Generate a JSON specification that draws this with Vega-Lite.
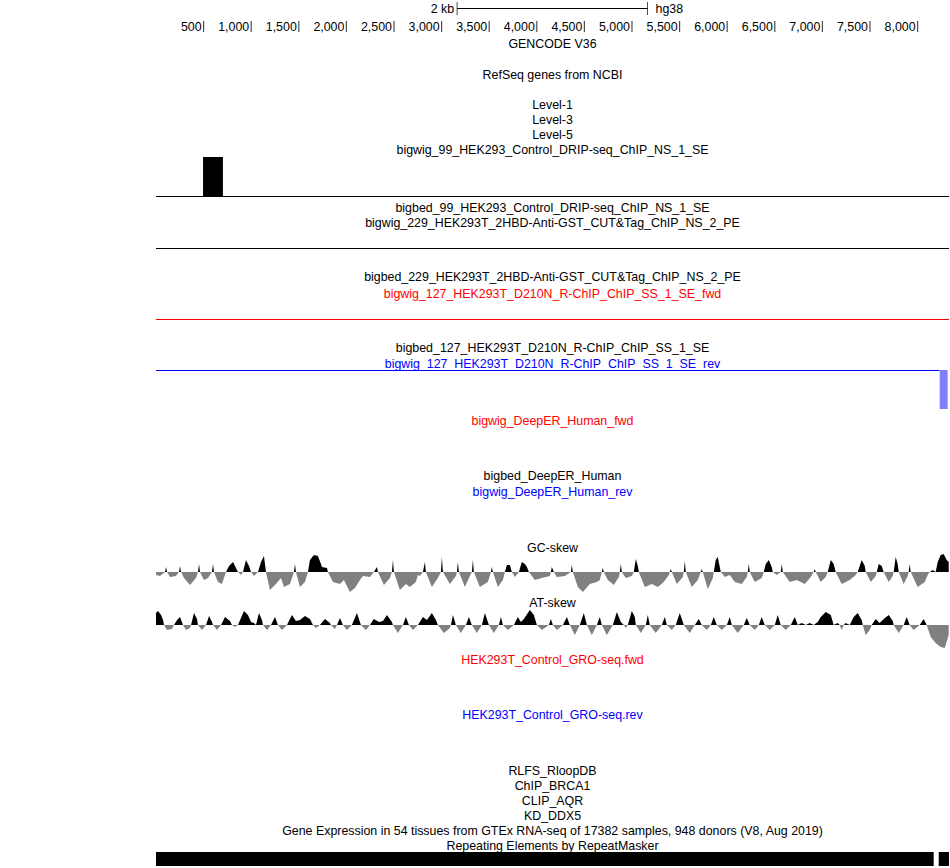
{
  "$schema": "https://vega.github.io/schema/vega-lite/v6.json",
  "background": "white",
  "padding": {"left": 156, "top": 0, "right": 1, "bottom": 2},
  "spacing": 0,
  "bounds": "flush",
  "resolve": {"scale": {"x": "independent", "y": "independent", "color": "independent"}},
  "config": {"view": {"stroke": null}, "text": {"font": "Liberation Sans", "fontSize": 12.4}, "concat": {"spacing": 0}},
  "vconcat": [
    {
      "width": 793, "height": 17,
      "data": {"values": [{"start": 3163, "end": 5163, "left": "2 kb", "right": "hg38"}]},
      "layer": [
        {"mark": {"type": "rule", "color": "black", "strokeWidth": 1},
         "encoding": {"x": {"field": "start", "type": "quantitative", "scale": {"domain": [0, 8330], "nice": false, "zero": false}, "axis": null}, "x2": {"field": "end"}}},
        {"mark": {"type": "tick", "color": "black", "size": 13, "thickness": 1},
         "encoding": {"x": {"field": "start", "type": "quantitative", "scale": {"domain": [0, 8330], "nice": false, "zero": false}, "axis": null}}},
        {"mark": {"type": "tick", "color": "black", "size": 13, "thickness": 1},
         "encoding": {"x": {"field": "end", "type": "quantitative", "scale": {"domain": [0, 8330], "nice": false, "zero": false}, "axis": null}}},
        {"mark": {"type": "text", "align": "right", "baseline": "middle", "dx": -3},
         "encoding": {"x": {"field": "start", "type": "quantitative", "scale": {"domain": [0, 8330], "nice": false, "zero": false}, "axis": null}, "text": {"field": "left"}}},
        {"mark": {"type": "text", "align": "left", "baseline": "middle", "dx": 8},
         "encoding": {"x": {"field": "end", "type": "quantitative", "scale": {"domain": [0, 8330], "nice": false, "zero": false}, "axis": null}, "text": {"field": "right"}}}
      ]
    },
    {
      "width": 793, "height": 19,
      "data": {"values": [
        {"pos": 500, "label": "500"}, {"pos": 1000, "label": "1,000"}, {"pos": 1500, "label": "1,500"}, {"pos": 2000, "label": "2,000"},
        {"pos": 2500, "label": "2,500"}, {"pos": 3000, "label": "3,000"}, {"pos": 3500, "label": "3,500"}, {"pos": 4000, "label": "4,000"},
        {"pos": 4500, "label": "4,500"}, {"pos": 5000, "label": "5,000"}, {"pos": 5500, "label": "5,500"}, {"pos": 6000, "label": "6,000"},
        {"pos": 6500, "label": "6,500"}, {"pos": 7000, "label": "7,000"}, {"pos": 7500, "label": "7,500"}, {"pos": 8000, "label": "8,000"}
      ]},
      "layer": [
        {"mark": {"type": "tick", "color": "black", "size": 11, "thickness": 1.2},
         "encoding": {"x": {"field": "pos", "type": "quantitative", "scale": {"domain": [0, 8330], "nice": false, "zero": false}, "axis": null}}},
        {"mark": {"type": "text", "align": "right", "baseline": "middle", "dx": -2},
         "encoding": {"x": {"field": "pos", "type": "quantitative", "scale": {"domain": [0, 8330], "nice": false, "zero": false}, "axis": null}, "text": {"field": "label"}}}
      ]
    },
    {
      "width": 793, "height": 15,
      "data": {"values": [{"label": "GENCODE V36", "strand": "none"}]},
      "mark": {"type": "text", "baseline": "middle", "align": "center"},
      "encoding": {
        "y": {"field": "label", "type": "ordinal", "sort": null, "axis": null, "scale": {"padding": 0.5, "align": 0.5}},
        "text": {"field": "label"},
        "color": {"field": "strand", "type": "nominal", "scale": {"domain": ["none", "fwd", "rev"], "range": ["#000000", "#ff0000", "#0000ff"]}, "legend": null}
      }
    },
    {
      "width": 793, "height": 46,
      "data": {"values": [{"label": "RefSeq genes from NCBI", "strand": "none"}]},
      "mark": {"type": "text", "baseline": "middle", "align": "center"},
      "encoding": {
        "y": {"field": "label", "type": "ordinal", "sort": null, "axis": null, "scale": {"padding": 0.5, "align": 0.52}},
        "text": {"field": "label"},
        "color": {"field": "strand", "type": "nominal", "scale": {"domain": ["none", "fwd", "rev"], "range": ["#000000", "#ff0000", "#0000ff"]}, "legend": null}
      }
    },
    {
      "width": 793, "height": 60,
      "data": {"values": [
        {"label": "Level-1", "strand": "none"}, {"label": "Level-3", "strand": "none"}, {"label": "Level-5", "strand": "none"},
        {"label": "bigwig_99_HEK293_Control_DRIP-seq_ChIP_NS_1_SE", "strand": "none"}
      ]},
      "mark": {"type": "text", "baseline": "middle", "align": "center"},
      "encoding": {
        "y": {"field": "label", "type": "ordinal", "sort": null, "axis": null, "scale": {"padding": 0.5, "align": 0.5}},
        "text": {"field": "label"},
        "color": {"field": "strand", "type": "nominal", "scale": {"domain": ["none", "fwd", "rev"], "range": ["#000000", "#ff0000", "#0000ff"]}, "legend": null}
      }
    },
    {
      "width": 793, "height": 40,
      "data": {"values": [{"start": 0, "end": 494, "signal": 1}, {"start": 494, "end": 703, "signal": 40}, {"start": 703, "end": 8330, "signal": 1}]},
      "mark": {"type": "rect", "color": "#000000"},
      "encoding": {
        "x": {"field": "start", "type": "quantitative", "scale": {"domain": [0, 8330], "nice": false, "zero": false}, "axis": null},
        "x2": {"field": "end"},
        "y": {"field": "signal", "type": "quantitative", "scale": {"domain": [0, 40], "nice": false}, "axis": null},
        "y2": {"datum": 0}
      }
    },
    {
      "width": 793, "height": 32,
      "data": {"values": [
        {"label": "bigbed_99_HEK293_Control_DRIP-seq_ChIP_NS_1_SE", "strand": "none"},
        {"label": "bigwig_229_HEK293T_2HBD-Anti-GST_CUT&Tag_ChIP_NS_2_PE", "strand": "none"}
      ]},
      "mark": {"type": "text", "baseline": "middle", "align": "center"},
      "encoding": {
        "y": {"field": "label", "type": "ordinal", "sort": null, "axis": null, "scale": {"padding": 0.5667, "align": 0.647}},
        "text": {"field": "label"},
        "color": {"field": "strand", "type": "nominal", "scale": {"domain": ["none", "fwd", "rev"], "range": ["#000000", "#ff0000", "#0000ff"]}, "legend": null}
      }
    },
    {
      "width": 793, "height": 20,
      "data": {"values": [{"start": 0, "end": 8330, "signal": 1}]},
      "mark": {"type": "rect", "color": "#000000"},
      "encoding": {
        "x": {"field": "start", "type": "quantitative", "scale": {"domain": [0, 8330], "nice": false, "zero": false}, "axis": null},
        "x2": {"field": "end"},
        "y": {"field": "signal", "type": "quantitative", "scale": {"domain": [0, 20], "nice": false}, "axis": null},
        "y2": {"datum": 0}
      }
    },
    {
      "width": 793, "height": 51,
      "data": {"values": [
        {"label": "bigbed_229_HEK293T_2HBD-Anti-GST_CUT&Tag_ChIP_NS_2_PE", "strand": "none"},
        {"label": "bigwig_127_HEK293T_D210N_R-ChIP_ChIP_SS_1_SE_fwd", "strand": "fwd"}
      ]},
      "mark": {"type": "text", "baseline": "middle", "align": "center"},
      "encoding": {
        "y": {"field": "label", "type": "ordinal", "sort": null, "axis": null, "scale": {"padding": 1, "align": 0.819}},
        "text": {"field": "label"},
        "color": {"field": "strand", "type": "nominal", "scale": {"domain": ["none", "fwd", "rev"], "range": ["#000000", "#ff0000", "#0000ff"]}, "legend": null}
      }
    },
    {
      "width": 793, "height": 20,
      "data": {"values": [{"start": 0, "end": 8330, "signal": 1}]},
      "mark": {"type": "rect", "color": "#ff0000"},
      "encoding": {
        "x": {"field": "start", "type": "quantitative", "scale": {"domain": [0, 8330], "nice": false, "zero": false}, "axis": null},
        "x2": {"field": "end"},
        "y": {"field": "signal", "type": "quantitative", "scale": {"domain": [0, 20], "nice": false}, "axis": null},
        "y2": {"datum": 0}
      }
    },
    {
      "width": 793, "height": 50,
      "data": {"values": [
        {"label": "bigbed_127_HEK293T_D210N_R-ChIP_ChIP_SS_1_SE", "strand": "none"},
        {"label": "bigwig_127_HEK293T_D210N_R-ChIP_ChIP_SS_1_SE_rev", "strand": "rev"}
      ]},
      "mark": {"type": "text", "baseline": "middle", "align": "center"},
      "encoding": {
        "y": {"field": "label", "type": "ordinal", "sort": null, "axis": null, "scale": {"padding": 1, "align": 0.829}},
        "text": {"field": "label"},
        "color": {"field": "strand", "type": "nominal", "scale": {"domain": ["none", "fwd", "rev"], "range": ["#000000", "#ff0000", "#0000ff"]}, "legend": null}
      }
    },
    {
      "width": 793, "height": 40,
      "data": {"values": [{"start": 0, "end": 8232, "signal": 1}, {"start": 8232, "end": 8316, "signal": 39}]},
      "mark": {"type": "rect"},
      "encoding": {
        "x": {"field": "start", "type": "quantitative", "scale": {"domain": [0, 8330], "nice": false, "zero": false}, "axis": null},
        "x2": {"field": "end"},
        "y": {"field": "signal", "type": "quantitative", "scale": {"domain": [0, 40], "nice": false, "reverse": true}, "axis": null},
        "y2": {"datum": 0},
        "color": {"condition": {"test": "datum.signal > 1", "value": "#8080ff"}, "value": "#0000ff"}
      }
    },
    {
      "width": 793, "height": 58,
      "data": {"values": [{"label": "bigwig_DeepER_Human_fwd", "strand": "fwd"}]},
      "mark": {"type": "text", "baseline": "middle", "align": "center"},
      "encoding": {
        "y": {"field": "label", "type": "ordinal", "sort": null, "axis": null, "scale": {"padding": 0.5, "align": 0.19}},
        "text": {"field": "label"},
        "color": {"field": "strand", "type": "nominal", "scale": {"domain": ["none", "fwd", "rev"], "range": ["#000000", "#ff0000", "#0000ff"]}, "legend": null}
      }
    },
    {
      "width": 793, "height": 15,
      "data": {"values": [{"label": "bigbed_DeepER_Human", "strand": "none"}]},
      "mark": {"type": "text", "baseline": "middle", "align": "center"},
      "encoding": {
        "y": {"field": "label", "type": "ordinal", "sort": null, "axis": null, "scale": {"padding": 0.5, "align": 0.533}},
        "text": {"field": "label"},
        "color": {"field": "strand", "type": "nominal", "scale": {"domain": ["none", "fwd", "rev"], "range": ["#000000", "#ff0000", "#0000ff"]}, "legend": null}
      }
    },
    {
      "width": 793, "height": 57,
      "data": {"values": [{"label": "bigwig_DeepER_Human_rev", "strand": "rev"}]},
      "mark": {"type": "text", "baseline": "middle", "align": "center"},
      "encoding": {
        "y": {"field": "label", "type": "ordinal", "sort": null, "axis": null, "scale": {"padding": 0.5, "align": 0.158}},
        "text": {"field": "label"},
        "color": {"field": "strand", "type": "nominal", "scale": {"domain": ["none", "fwd", "rev"], "range": ["#000000", "#ff0000", "#0000ff"]}, "legend": null}
      }
    },
    {
      "width": 793, "height": 14,
      "data": {"values": [{"label": "GC-skew", "strand": "none"}]},
      "mark": {"type": "text", "baseline": "middle", "align": "center"},
      "encoding": {
        "y": {"field": "label", "type": "ordinal", "sort": null, "axis": null, "scale": {"padding": 0.5, "align": 0.55}},
        "text": {"field": "label"},
        "color": {"field": "strand", "type": "nominal", "scale": {"domain": ["none", "fwd", "rev"], "range": ["#000000", "#ff0000", "#0000ff"]}, "legend": null}
      }
    },
    {
      "width": 793, "height": 42,
      "data": {"values": [
        {"pos":0,"skew":-3},{"pos":42,"skew":-4},{"pos":95,"skew":0},{"pos":105,"skew":5},{"pos":116,"skew":0},{"pos":147,"skew":-5},{"pos":210,"skew":-4},{"pos":242,"skew":0},{"pos":252,"skew":6},{"pos":263,"skew":0},
        {"pos":294,"skew":-6},{"pos":357,"skew":-13},{"pos":420,"skew":-6},{"pos":441,"skew":0},{"pos":452,"skew":8},{"pos":462,"skew":0},{"pos":504,"skew":-8},{"pos":546,"skew":-6},{"pos":588,"skew":0},{"pos":599,"skew":8},
        {"pos":609,"skew":0},{"pos":651,"skew":-10},{"pos":693,"skew":-12},{"pos":735,"skew":0},{"pos":767,"skew":6},{"pos":809,"skew":10},{"pos":840,"skew":4},{"pos":861,"skew":0},{"pos":893,"skew":-3},{"pos":914,"skew":0},
        {"pos":945,"skew":12},{"pos":977,"skew":6},{"pos":998,"skew":0},{"pos":1029,"skew":-4},{"pos":1071,"skew":0},{"pos":1103,"skew":10},{"pos":1134,"skew":16},{"pos":1155,"skew":0},{"pos":1197,"skew":-18},{"pos":1260,"skew":-12},
        {"pos":1313,"skew":-6},{"pos":1344,"skew":-15},{"pos":1407,"skew":-12},{"pos":1449,"skew":0},{"pos":1460,"skew":8},{"pos":1470,"skew":0},{"pos":1512,"skew":-15},{"pos":1565,"skew":-10},{"pos":1596,"skew":0},{"pos":1617,"skew":12},
        {"pos":1659,"skew":17},{"pos":1701,"skew":16},{"pos":1733,"skew":8},{"pos":1743,"skew":5},{"pos":1796,"skew":4},{"pos":1806,"skew":0},{"pos":1859,"skew":-10},{"pos":1932,"skew":-12},{"pos":1974,"skew":-8},{"pos":2037,"skew":-20},
        {"pos":2090,"skew":-16},{"pos":2142,"skew":-8},{"pos":2174,"skew":-4},{"pos":2247,"skew":-5},{"pos":2289,"skew":0},{"pos":2321,"skew":5},{"pos":2331,"skew":0},{"pos":2394,"skew":-13},{"pos":2457,"skew":-6},{"pos":2478,"skew":0},
        {"pos":2489,"skew":12},{"pos":2499,"skew":0},{"pos":2562,"skew":-18},{"pos":2625,"skew":-12},{"pos":2667,"skew":-15},{"pos":2730,"skew":-10},{"pos":2751,"skew":-3},{"pos":2772,"skew":-4},{"pos":2804,"skew":0},{"pos":2825,"skew":10},
        {"pos":2835,"skew":0},{"pos":2898,"skew":-15},{"pos":2961,"skew":-6},{"pos":2993,"skew":0},{"pos":3003,"skew":15},{"pos":3014,"skew":0},{"pos":3087,"skew":-12},{"pos":3150,"skew":-4},{"pos":3161,"skew":0},{"pos":3171,"skew":10},
        {"pos":3182,"skew":0},{"pos":3245,"skew":-15},{"pos":3297,"skew":-4},{"pos":3318,"skew":0},{"pos":3329,"skew":12},{"pos":3339,"skew":0},{"pos":3402,"skew":-15},{"pos":3486,"skew":-10},{"pos":3518,"skew":0},{"pos":3528,"skew":5},
        {"pos":3539,"skew":0},{"pos":3591,"skew":-15},{"pos":3644,"skew":-8},{"pos":3665,"skew":0},{"pos":3686,"skew":7},{"pos":3717,"skew":7},{"pos":3738,"skew":0},{"pos":3770,"skew":-5},{"pos":3812,"skew":0},{"pos":3843,"skew":10},
        {"pos":3875,"skew":8},{"pos":3896,"skew":5},{"pos":3917,"skew":0},{"pos":3980,"skew":-8},{"pos":4053,"skew":-6},{"pos":4137,"skew":-4},{"pos":4148,"skew":0},{"pos":4158,"skew":5},{"pos":4179,"skew":0},{"pos":4211,"skew":-5},
        {"pos":4295,"skew":-4},{"pos":4358,"skew":0},{"pos":4368,"skew":7},{"pos":4379,"skew":0},{"pos":4431,"skew":-15},{"pos":4484,"skew":-20},{"pos":4557,"skew":-12},{"pos":4631,"skew":-10},{"pos":4662,"skew":-8},{"pos":4683,"skew":0},
        {"pos":4694,"skew":4},{"pos":4704,"skew":0},{"pos":4746,"skew":-8},{"pos":4809,"skew":-13},{"pos":4862,"skew":-5},{"pos":4872,"skew":0},{"pos":4883,"skew":8},{"pos":4893,"skew":0},{"pos":4935,"skew":-6},{"pos":4998,"skew":-4},
        {"pos":5019,"skew":0},{"pos":5040,"skew":13},{"pos":5061,"skew":6},{"pos":5072,"skew":0},{"pos":5135,"skew":-15},{"pos":5208,"skew":-12},{"pos":5271,"skew":-15},{"pos":5334,"skew":-10},{"pos":5387,"skew":-3},{"pos":5397,"skew":0},
        {"pos":5408,"skew":3},{"pos":5418,"skew":0},{"pos":5471,"skew":-12},{"pos":5534,"skew":-5},{"pos":5544,"skew":0},{"pos":5555,"skew":11},{"pos":5565,"skew":0},{"pos":5628,"skew":-15},{"pos":5691,"skew":-8},{"pos":5723,"skew":0},
        {"pos":5733,"skew":3},{"pos":5744,"skew":0},{"pos":5796,"skew":-17},{"pos":5849,"skew":-6},{"pos":5859,"skew":0},{"pos":5880,"skew":12},{"pos":5901,"skew":15},{"pos":5922,"skew":5},{"pos":5933,"skew":0},{"pos":5975,"skew":-5},
        {"pos":6027,"skew":-3},{"pos":6080,"skew":-10},{"pos":6153,"skew":-12},{"pos":6206,"skew":-5},{"pos":6216,"skew":0},{"pos":6227,"skew":8},{"pos":6237,"skew":0},{"pos":6290,"skew":-10},{"pos":6363,"skew":-6},{"pos":6384,"skew":0},
        {"pos":6405,"skew":8},{"pos":6437,"skew":12},{"pos":6468,"skew":5},{"pos":6479,"skew":0},{"pos":6521,"skew":-3},{"pos":6563,"skew":0},{"pos":6573,"skew":8},{"pos":6584,"skew":0},{"pos":6657,"skew":-10},{"pos":6731,"skew":-8},
        {"pos":6815,"skew":-12},{"pos":6878,"skew":-5},{"pos":6909,"skew":0},{"pos":6920,"skew":3},{"pos":6930,"skew":0},{"pos":6983,"skew":-10},{"pos":7035,"skew":-5},{"pos":7056,"skew":0},{"pos":7088,"skew":12},{"pos":7119,"skew":8},
        {"pos":7140,"skew":0},{"pos":7203,"skew":-12},{"pos":7287,"skew":-8},{"pos":7350,"skew":-3},{"pos":7371,"skew":0},{"pos":7413,"skew":12},{"pos":7445,"skew":6},{"pos":7455,"skew":0},{"pos":7508,"skew":-10},{"pos":7560,"skew":-4},
        {"pos":7571,"skew":0},{"pos":7592,"skew":8},{"pos":7623,"skew":6},{"pos":7644,"skew":0},{"pos":7697,"skew":-10},{"pos":7739,"skew":-4},{"pos":7749,"skew":0},{"pos":7770,"skew":15},{"pos":7791,"skew":8},{"pos":7802,"skew":0},
        {"pos":7854,"skew":-12},{"pos":7896,"skew":-4},{"pos":7907,"skew":0},{"pos":7917,"skew":8},{"pos":7928,"skew":0},{"pos":8001,"skew":-15},{"pos":8075,"skew":-10},{"pos":8106,"skew":-3},{"pos":8127,"skew":0},{"pos":8159,"skew":2},
        {"pos":8190,"skew":0},{"pos":8211,"skew":10},{"pos":8243,"skew":17},{"pos":8274,"skew":18},{"pos":8306,"skew":12},{"pos":8327,"skew":10}
      ]},
      "layer": [
        {"transform": [{"filter": "datum.skew >= 0"}],
         "mark": {"type": "area", "color": "#000000", "interpolate": "linear"},
         "encoding": {
           "x": {"field": "pos", "type": "quantitative", "scale": {"domain": [0, 8330], "nice": false, "zero": false}, "axis": null},
           "y": {"field": "skew", "type": "quantitative", "scale": {"domain": [-24, 18], "nice": false}, "axis": null}}},
        {"transform": [{"filter": "datum.skew <= 0"}],
         "mark": {"type": "area", "color": "#808080", "interpolate": "linear"},
         "encoding": {
           "x": {"field": "pos", "type": "quantitative", "scale": {"domain": [0, 8330], "nice": false, "zero": false}, "axis": null},
           "y": {"field": "skew", "type": "quantitative", "scale": {"domain": [-24, 18], "nice": false}, "axis": null}}}
      ]
    },
    {
      "width": 793, "height": 12,
      "data": {"values": [{"label": "AT-skew", "strand": "none"}]},
      "mark": {"type": "text", "baseline": "middle", "align": "center"},
      "encoding": {
        "y": {"field": "label", "type": "ordinal", "sort": null, "axis": null, "scale": {"padding": 0.5, "align": 0.55}},
        "text": {"field": "label"},
        "color": {"field": "strand", "type": "nominal", "scale": {"domain": ["none", "fwd", "rev"], "range": ["#000000", "#ff0000", "#0000ff"]}, "legend": null}
      }
    },
    {
      "width": 793, "height": 42,
      "data": {"values": [
        {"pos":0,"skew":12},{"pos":21,"skew":14},{"pos":53,"skew":10},{"pos":74,"skew":5},{"pos":84,"skew":0},{"pos":116,"skew":-5},{"pos":168,"skew":-4},{"pos":189,"skew":0},{"pos":221,"skew":5},{"pos":252,"skew":8},
        {"pos":284,"skew":0},{"pos":315,"skew":-5},{"pos":357,"skew":-3},{"pos":368,"skew":0},{"pos":399,"skew":12},{"pos":431,"skew":6},{"pos":441,"skew":0},{"pos":483,"skew":-5},{"pos":525,"skew":0},{"pos":557,"skew":9},
        {"pos":588,"skew":3},{"pos":599,"skew":0},{"pos":641,"skew":-5},{"pos":683,"skew":0},{"pos":725,"skew":8},{"pos":777,"skew":4},{"pos":798,"skew":0},{"pos":830,"skew":-2},{"pos":861,"skew":0},{"pos":924,"skew":14},
        {"pos":966,"skew":10},{"pos":998,"skew":3},{"pos":1029,"skew":2},{"pos":1050,"skew":0},{"pos":1082,"skew":12},{"pos":1113,"skew":5},{"pos":1124,"skew":0},{"pos":1166,"skew":-5},{"pos":1208,"skew":0},{"pos":1250,"skew":8},
        {"pos":1281,"skew":0},{"pos":1323,"skew":-5},{"pos":1376,"skew":0},{"pos":1428,"skew":10},{"pos":1470,"skew":4},{"pos":1512,"skew":5},{"pos":1565,"skew":9},{"pos":1617,"skew":6},{"pos":1649,"skew":0},{"pos":1680,"skew":-3},
        {"pos":1722,"skew":0},{"pos":1775,"skew":6},{"pos":1827,"skew":2},{"pos":1838,"skew":0},{"pos":1880,"skew":-4},{"pos":1901,"skew":0},{"pos":1932,"skew":7},{"pos":1964,"skew":0},{"pos":2006,"skew":-5},{"pos":2058,"skew":0},
        {"pos":2111,"skew":12},{"pos":2142,"skew":3},{"pos":2153,"skew":0},{"pos":2205,"skew":-5},{"pos":2247,"skew":0},{"pos":2289,"skew":6},{"pos":2342,"skew":3},{"pos":2384,"skew":4},{"pos":2426,"skew":10},{"pos":2478,"skew":3},
        {"pos":2489,"skew":0},{"pos":2541,"skew":-8},{"pos":2594,"skew":0},{"pos":2625,"skew":8},{"pos":2657,"skew":0},{"pos":2699,"skew":-5},{"pos":2751,"skew":0},{"pos":2804,"skew":8},{"pos":2846,"skew":5},{"pos":2898,"skew":12},
        {"pos":2940,"skew":5},{"pos":2961,"skew":0},{"pos":3024,"skew":-8},{"pos":3087,"skew":-3},{"pos":3098,"skew":0},{"pos":3119,"skew":10},{"pos":3150,"skew":0},{"pos":3203,"skew":-8},{"pos":3255,"skew":0},{"pos":3287,"skew":8},
        {"pos":3318,"skew":0},{"pos":3371,"skew":-8},{"pos":3423,"skew":0},{"pos":3455,"skew":12},{"pos":3486,"skew":3},{"pos":3497,"skew":0},{"pos":3549,"skew":-8},{"pos":3602,"skew":0},{"pos":3623,"skew":8},{"pos":3644,"skew":0},
        {"pos":3696,"skew":-5},{"pos":3759,"skew":0},{"pos":3801,"skew":8},{"pos":3833,"skew":3},{"pos":3864,"skew":6},{"pos":3927,"skew":15},{"pos":3969,"skew":10},{"pos":4001,"skew":0},{"pos":4053,"skew":-5},{"pos":4127,"skew":0},
        {"pos":4148,"skew":6},{"pos":4169,"skew":0},{"pos":4211,"skew":-5},{"pos":4274,"skew":0},{"pos":4316,"skew":8},{"pos":4347,"skew":0},{"pos":4400,"skew":-10},{"pos":4452,"skew":0},{"pos":4494,"skew":12},{"pos":4526,"skew":0},
        {"pos":4578,"skew":-10},{"pos":4631,"skew":0},{"pos":4662,"skew":8},{"pos":4683,"skew":0},{"pos":4736,"skew":-10},{"pos":4799,"skew":0},{"pos":4841,"skew":13},{"pos":4883,"skew":3},{"pos":4914,"skew":0},{"pos":4935,"skew":-3},
        {"pos":4956,"skew":0},{"pos":4998,"skew":14},{"pos":5030,"skew":8},{"pos":5040,"skew":0},{"pos":5093,"skew":-8},{"pos":5145,"skew":0},{"pos":5166,"skew":10},{"pos":5187,"skew":0},{"pos":5250,"skew":-8},{"pos":5313,"skew":0},
        {"pos":5345,"skew":8},{"pos":5366,"skew":0},{"pos":5418,"skew":-5},{"pos":5460,"skew":0},{"pos":5502,"skew":12},{"pos":5534,"skew":3},{"pos":5544,"skew":0},{"pos":5607,"skew":-8},{"pos":5660,"skew":0},{"pos":5702,"skew":6},
        {"pos":5733,"skew":0},{"pos":5786,"skew":-5},{"pos":5828,"skew":0},{"pos":5859,"skew":8},{"pos":5891,"skew":0},{"pos":5943,"skew":-5},{"pos":5996,"skew":0},{"pos":6027,"skew":8},{"pos":6048,"skew":0},{"pos":6111,"skew":-8},
        {"pos":6174,"skew":0},{"pos":6206,"skew":7},{"pos":6237,"skew":0},{"pos":6290,"skew":-5},{"pos":6332,"skew":0},{"pos":6363,"skew":8},{"pos":6395,"skew":0},{"pos":6447,"skew":-5},{"pos":6500,"skew":0},{"pos":6531,"skew":10},
        {"pos":6563,"skew":0},{"pos":6615,"skew":-5},{"pos":6668,"skew":0},{"pos":6710,"skew":8},{"pos":6741,"skew":0},{"pos":6783,"skew":2},{"pos":6825,"skew":0},{"pos":6867,"skew":2},{"pos":6909,"skew":0},{"pos":6951,"skew":3},
        {"pos":6983,"skew":8},{"pos":7035,"skew":13},{"pos":7088,"skew":10},{"pos":7119,"skew":0},{"pos":7161,"skew":2},{"pos":7182,"skew":0},{"pos":7203,"skew":-5},{"pos":7224,"skew":0},{"pos":7245,"skew":2},{"pos":7287,"skew":0},
        {"pos":7329,"skew":8},{"pos":7371,"skew":12},{"pos":7413,"skew":5},{"pos":7424,"skew":0},{"pos":7455,"skew":-10},{"pos":7497,"skew":-5},{"pos":7518,"skew":0},{"pos":7560,"skew":6},{"pos":7602,"skew":2},{"pos":7644,"skew":6},
        {"pos":7697,"skew":10},{"pos":7739,"skew":4},{"pos":7749,"skew":0},{"pos":7802,"skew":-8},{"pos":7854,"skew":0},{"pos":7886,"skew":8},{"pos":7917,"skew":0},{"pos":7959,"skew":-5},{"pos":8022,"skew":0},{"pos":8064,"skew":6},
        {"pos":8096,"skew":0},{"pos":8138,"skew":-12},{"pos":8190,"skew":-18},{"pos":8243,"skew":-22},{"pos":8285,"skew":-23},{"pos":8327,"skew":-10}
      ]},
      "layer": [
        {"transform": [{"filter": "datum.skew >= 0"}],
         "mark": {"type": "area", "color": "#000000", "interpolate": "linear"},
         "encoding": {
           "x": {"field": "pos", "type": "quantitative", "scale": {"domain": [0, 8330], "nice": false, "zero": false}, "axis": null},
           "y": {"field": "skew", "type": "quantitative", "scale": {"domain": [-25, 17], "nice": false}, "axis": null}}},
        {"transform": [{"filter": "datum.skew <= 0"}],
         "mark": {"type": "area", "color": "#808080", "interpolate": "linear"},
         "encoding": {
           "x": {"field": "pos", "type": "quantitative", "scale": {"domain": [0, 8330], "nice": false, "zero": false}, "axis": null},
           "y": {"field": "skew", "type": "quantitative", "scale": {"domain": [-25, 17], "nice": false}, "axis": null}}}
      ]
    },
    {
      "width": 793, "height": 40,
      "data": {"values": [{"label": "HEK293T_Control_GRO-seq.fwd", "strand": "fwd"}]},
      "mark": {"type": "text", "baseline": "middle", "align": "center"},
      "encoding": {
        "y": {"field": "label", "type": "ordinal", "sort": null, "axis": null, "scale": {"padding": 0.5, "align": 0.25}},
        "text": {"field": "label"},
        "color": {"field": "strand", "type": "nominal", "scale": {"domain": ["none", "fwd", "rev"], "range": ["#000000", "#ff0000", "#0000ff"]}, "legend": null}
      }
    },
    {
      "width": 793, "height": 72,
      "data": {"values": [{"label": "HEK293T_Control_GRO-seq.rev", "strand": "rev"}]},
      "mark": {"type": "text", "baseline": "middle", "align": "center"},
      "encoding": {
        "y": {"field": "label", "type": "ordinal", "sort": null, "axis": null, "scale": {"padding": 0.5, "align": 0.347}},
        "text": {"field": "label"},
        "color": {"field": "strand", "type": "nominal", "scale": {"domain": ["none", "fwd", "rev"], "range": ["#000000", "#ff0000", "#0000ff"]}, "legend": null}
      }
    },
    {
      "width": 793, "height": 90,
      "data": {"values": [
        {"label": "RLFS_RloopDB", "strand": "none"},
        {"label": "ChIP_BRCA1", "strand": "none"},
        {"label": "CLIP_AQR", "strand": "none"},
        {"label": "KD_DDX5", "strand": "none"},
        {"label": "Gene Expression in 54 tissues from GTEx RNA-seq of 17382 samples, 948 donors (V8, Aug 2019)", "strand": "none"},
        {"label": "Repeating Elements by RepeatMasker", "strand": "none"}
      ]},
      "mark": {"type": "text", "baseline": "middle", "align": "center"},
      "encoding": {
        "y": {"field": "label", "type": "ordinal", "sort": null, "axis": null, "scale": {"padding": 0.5, "align": 0.567}},
        "text": {"field": "label"},
        "color": {"field": "strand", "type": "nominal", "scale": {"domain": ["none", "fwd", "rev"], "range": ["#000000", "#ff0000", "#0000ff"]}, "legend": null}
      }
    },
    {
      "width": 793, "height": 14,
      "data": {"values": [{"start": 0, "end": 8169}, {"start": 8222, "end": 8330}]},
      "mark": {"type": "rect", "color": "#000000"},
      "encoding": {
        "x": {"field": "start", "type": "quantitative", "scale": {"domain": [0, 8330], "nice": false, "zero": false}, "axis": null},
        "x2": {"field": "end"}
      }
    }
  ]
}
